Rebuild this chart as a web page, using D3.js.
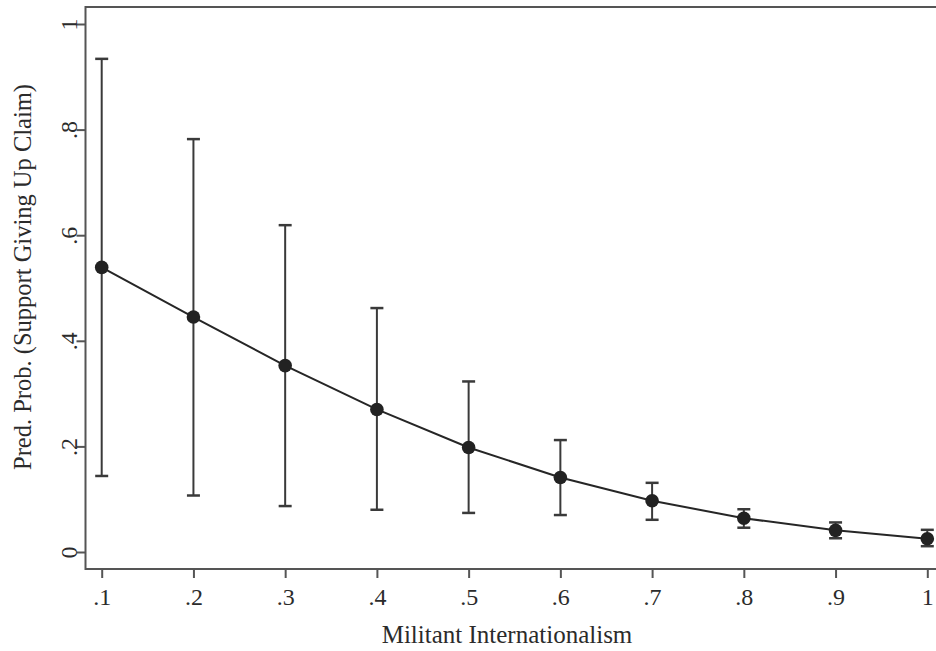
<!DOCTYPE html>
<html>
<head>
<meta charset="utf-8">
<script src="https://cdn.jsdelivr.net/npm/d3@7"></script>
<style>
    body { margin: 0; background: #fff; }
    svg { display: block; font-family: "Liberation Serif", "DejaVu Serif", serif; }
    .axis text { fill: #2b2b2b; font-size: 24px; }
    .axis path, .axis line { stroke: #555; stroke-width: 2; }
</style>
</head>
<body>
<script>
const militant = [0.1, 0.2, 0.3, 0.4, 0.5, 0.6, 0.7, 0.8, 0.9, 1.0];
const predProb = [0.539, 0.445, 0.353, 0.270, 0.198, 0.141, 0.097, 0.064, 0.041, 0.025];
const ciLower = [0.144, 0.107, 0.087, 0.080, 0.074, 0.070, 0.061, 0.046, 0.026, 0.011];
const ciUpper = [0.934, 0.782, 0.619, 0.462, 0.323, 0.212, 0.131, 0.081, 0.056, 0.042];
const xTicks = [0.1, 0.2, 0.3, 0.4, 0.5, 0.6, 0.7, 0.8, 0.9, 1.0];
const yTicks = [0, 0.2, 0.4, 0.6, 0.8, 1];

const width = 936, height = 651;
const frame = {left: 85.5, top: 7, right: 944, bottom: 569};

const fmt = d => d === 1 ? '1' : d === 0 ? '0' : d3.format('.1f')(d).replace(/^0/, '');

const x = d3.scaleLinear().domain([0.1, 1]).range([101.7, 927.3]);
const y = d3.scaleLinear().domain([0, 1]).range([552, 24]);

const data = militant.map((m, i) => ({m: m, p: predProb[i], lo: ciLower[i], hi: ciUpper[i]}));

const svg = d3.select('body').append('svg')
    .attr('width', width)
    .attr('height', height);

// plot frame
svg.append('rect')
    .attr('x', frame.left)
    .attr('y', frame.top)
    .attr('width', frame.right - frame.left)
    .attr('height', frame.bottom - frame.top)
    .attr('fill', 'none')
    .attr('stroke', '#555')
    .attr('stroke-width', 2);

// x axis
const xAxis = svg.append('g')
    .attr('class', 'axis x')
    .attr('transform', 'translate(0,' + frame.bottom + ')')
    .call(d3.axisBottom(x).tickValues(xTicks).tickFormat(fmt).tickSize(9).tickSizeOuter(0).tickPadding(10))
    .attr('font-family', null)
    .attr('font-size', null);
xAxis.select('.domain').remove();

// y axis
const yAxis = svg.append('g')
    .attr('class', 'axis y')
    .attr('transform', 'translate(' + frame.left + ',0)')
    .call(d3.axisLeft(y).tickValues(yTicks).tickFormat(fmt).tickSize(9).tickSizeOuter(0))
    .attr('font-family', null)
    .attr('font-size', null);
yAxis.select('.domain').remove();
yAxis.selectAll('.tick text')
    .attr('x', null)
    .attr('dy', null)
    .attr('text-anchor', 'middle')
    .attr('transform', 'translate(-9,0) rotate(-90)');

// axis titles
svg.append('text')
    .attr('x', 507)
    .attr('y', 643)
    .attr('text-anchor', 'middle')
    .attr('font-size', 25)
    .attr('fill', '#2b2b2b')
    .text('Militant Internationalism');

svg.append('text')
    .attr('transform', 'translate(31,277) rotate(-90)')
    .attr('text-anchor', 'middle')
    .attr('font-size', 24.5)
    .attr('fill', '#2b2b2b')
    .text('Pred. Prob. (Support Giving Up Claim)');

// error bars
const bars = svg.append('g').attr('class', 'ci');
bars.selectAll('line.stem')
    .data(data)
    .join('line')
    .attr('class', 'stem')
    .attr('x1', d => x(d.m))
    .attr('x2', d => x(d.m))
    .attr('y1', d => y(d.lo))
    .attr('y2', d => y(d.hi))
    .attr('stroke', '#3a3a3a')
    .attr('stroke-width', 2);

['lo', 'hi'].forEach(k => {
    bars.selectAll('line.cap-' + k)
        .data(data)
        .join('line')
        .attr('class', 'cap-' + k)
        .attr('x1', d => x(d.m) - 6.5)
        .attr('x2', d => x(d.m) + 6.5)
        .attr('y1', d => y(d[k]))
        .attr('y2', d => y(d[k]))
        .attr('stroke', '#3a3a3a')
        .attr('stroke-width', 2.5);
});

// connecting line
svg.append('path')
    .datum(data)
    .attr('fill', 'none')
    .attr('stroke', '#262626')
    .attr('stroke-width', 2)
    .attr('d', d3.line().x(d => x(d.m)).y(d => y(d.p)));

// markers
svg.append('g')
    .selectAll('circle')
    .data(data)
    .join('circle')
    .attr('cx', d => x(d.m))
    .attr('cy', d => y(d.p))
    .attr('r', 6.8)
    .attr('fill', '#222');
</script>
</body>
</html>
